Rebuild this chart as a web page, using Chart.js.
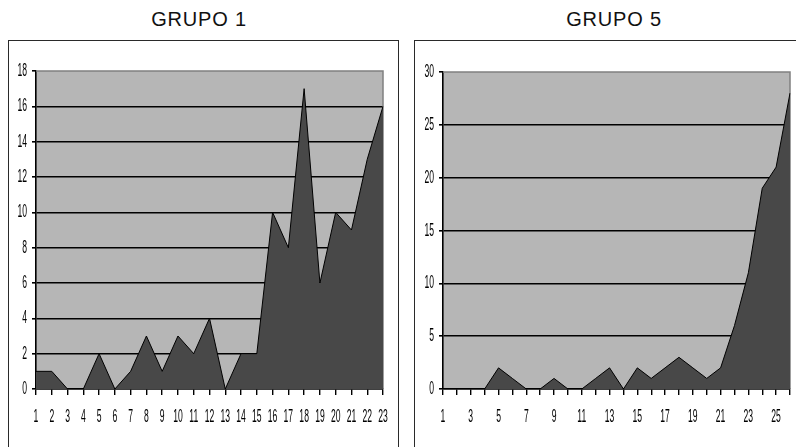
<!DOCTYPE html>
<html>
<head>
<meta charset="utf-8">
<script src="https://cdn.jsdelivr.net/npm/chart.js@4.4.1/dist/chart.umd.min.js"></script>
<style>
  body { margin: 0; background: #fff; width: 796px; height: 447px; overflow: hidden; position: relative; font-family: "Liberation Sans", Arial, sans-serif; }
  .panel { position: absolute; top: 40px; height: 480px; border: 1.6px solid #2a2a2a; box-sizing: border-box; }
  .title { position: absolute; top: 8px; font-size: 20px; letter-spacing: 0.8px; color: #111; transform: translateX(-50%); white-space: nowrap; }
  canvas { position: absolute; top: 0; }
</style>
</head>
<body>
<div class="panel" style="left:8px;width:391px"></div>
<div class="panel" style="left:414px;width:400px"></div>
<div class="title" style="left:199px">GRUPO 1</div>
<div class="title" style="left:614px">GRUPO 5</div>
<canvas id="chart1" width="400" height="447" style="left:0"></canvas>
<canvas id="chart5" width="396" height="447" style="left:400px"></canvas>
<script>
// datos
var dias1 = ['1','2','3','4','5','6','7','8','9','10','11','12','13','14','15','16','17','18','19','20','21','22','23'];
var grupo1 = [1, 1, 0, 0, 2, 0, 1, 3, 1, 3, 2, 4, 0, 2, 2, 10, 8, 17, 6, 10, 9, 13, 16];
var dias5 = ['1','2','3','4','5','6','7','8','9','10','11','12','13','14','15','16','17','18','19','20','21','22','23','24','25','26'];
var grupo5 = [0, 0, 0, 0, 2, 1, 0, 0, 1, 0, 0, 1, 2, 0, 2, 1, 2, 3, 2, 1, 2, 6, 11, 19, 21, 28];

// fondo gris del area y borde gris arriba/derecha, etiquetas estiradas
var plotStyle = {
  id: 'plotStyle',
  beforeDraw: function (chart) {
    var a = chart.chartArea, ctx = chart.ctx;
    ctx.save();
    ctx.fillStyle = '#b6b6b6';
    ctx.fillRect(a.left, a.top, a.right - a.left, a.bottom - a.top);
    ctx.restore();
  },
  beforeDatasetsDraw: function (chart) {
    var a = chart.chartArea, ctx = chart.ctx;
    ctx.save();
    ctx.strokeStyle = '#808080';
    ctx.lineWidth = 1.5;
    ctx.beginPath();
    ctx.moveTo(a.left, a.top);
    ctx.lineTo(a.right, a.top);
    ctx.lineTo(a.right, a.bottom);
    ctx.stroke();
    ctx.restore();
  },
  afterDraw: function (chart, args, opts) {
    var ctx = chart.ctx, a = chart.chartArea;
    var xs = chart.scales.x, ys = chart.scales.y;
    ctx.save();
    ctx.fillStyle = '#000';
    ctx.font = '13px "Liberation Sans", Arial, sans-serif';
    ctx.textBaseline = 'middle';
    ys.ticks.forEach(function (t) {
      var py = ys.getPixelForValue(t.value);
      ctx.save();
      ctx.translate(a.left - 9, py);
      ctx.scale(0.66, 1.4);
      ctx.textAlign = 'right';
      ctx.fillText(String(t.value), 0, 0);
      ctx.restore();
    });
    chart.data.labels.forEach(function (lbl, i) {
      if (i % opts.every !== 0) return;
      var px = xs.getPixelForValue(i);
      ctx.save();
      ctx.translate(px, a.bottom + 28);
      ctx.scale(0.66, 1.4);
      ctx.textAlign = 'center';
      ctx.fillText(lbl, 0, 0);
      ctx.restore();
    });
    ctx.restore();
  }
};

function makeChart(id, labels, values, maxY, step, every, pad) {
  var ctx = document.getElementById(id);
  return new Chart(ctx, {
    type: 'line',
    data: {
      labels: labels,
      datasets: [{
        data: values,
        fill: 'origin',
        backgroundColor: '#484848',
        borderColor: '#000',
        borderWidth: 1,
        pointRadius: 0,
        tension: 0
      }]
    },
    options: {
      responsive: false,
      animation: false,
      layout: { padding: pad },
      plugins: {
        legend: { display: false },
        tooltip: { enabled: false },
        plotStyle: { every: every }
      },
      scales: {
        x: {
          offset: false,
          afterFit: function (s) { s.height = 0; },
          grid: { drawOnChartArea: false, drawTicks: true, tickLength: 6, color: '#000', lineWidth: 1.4 },
          border: { display: true, color: '#000', width: 1.6 },
          ticks: { display: false, autoSkip: false }
        },
        y: {
          min: 0,
          max: maxY,
          afterFit: function (s) { s.width = 0; },
          grid: {
            drawTicks: true,
            tickLength: 4,
            lineWidth: 1.6,
            tickColor: '#000',
            color: function (c) { return (c.tick && c.tick.value === maxY) ? 'rgba(0,0,0,0)' : '#000'; }
          },
          border: { display: true, color: '#000', width: 1.6 },
          ticks: { display: false, stepSize: step }
        }
      }
    },
    plugins: [plotStyle]
  });
}

makeChart('chart1', dias1, grupo1, 18, 2, 1, { left: 36, top: 71, right: 17, bottom: 58 });
makeChart('chart5', dias5, grupo5, 30, 5, 2, { left: 43, top: 72, right: 6, bottom: 58 });
</script>
</body>
</html>
